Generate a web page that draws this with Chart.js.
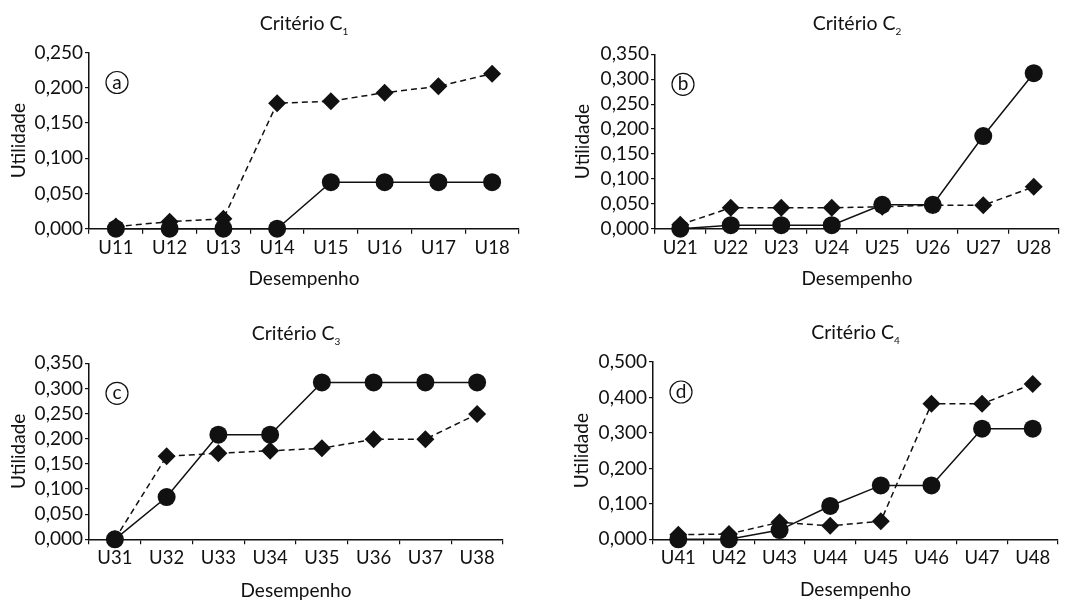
<!DOCTYPE html>
<html><head><meta charset="utf-8">
<script src="https://cdn.jsdelivr.net/npm/chart.js@4.4.0/dist/chart.umd.min.js"></script>
<style>
html,body{margin:0;padding:0;background:#fff;}
#wrap{position:relative;width:1083px;height:601px;overflow:hidden;background:#fff;}
#wrap canvas{position:absolute;left:0;top:0;}
.ttl{position:absolute;font-family:Lato,sans-serif;font-size:19.5px;color:#111;transform:translate(-50%,-50%);white-space:nowrap;line-height:1;}
.ttl sub{font-size:10px;vertical-align:-5px;margin-left:0;}
</style></head>
<body><div id="wrap">
<canvas id="cA" width="1083" height="601"></canvas>
<canvas id="cB" width="1083" height="601"></canvas>
<canvas id="cC" width="1083" height="601"></canvas>
<canvas id="cD" width="1083" height="601"></canvas>
<div class="ttl" id="tA">Critério C<sub>1</sub></div>
<div class="ttl" id="tB">Critério C<sub>2</sub></div>
<div class="ttl" id="tC">Critério C<sub>3</sub></div>
<div class="ttl" id="tD">Critério C<sub>4</sub></div>
</div>
<script>
// ---- data ----
const cats1 = ['U11','U12','U13','U14','U15','U16','U17','U18'];
const cats2 = ['U21','U22','U23','U24','U25','U26','U27','U28'];
const cats3 = ['U31','U32','U33','U34','U35','U36','U37','U38'];
const cats4 = ['U41','U42','U43','U44','U45','U46','U47','U48'];

const c1Circles  = [0, 0, 0, 0, 0.066, 0.066, 0.066, 0.066];
const c1Diamonds = [0.003, 0.010, 0.014, 0.178, 0.181, 0.193, 0.202, 0.220];
const c2Circles  = [0, 0.007, 0.007, 0.007, 0.048, 0.048, 0.186, 0.312];
const c2Diamonds = [0.008, 0.042, 0.042, 0.042, 0.044, 0.047, 0.047, 0.084];
const c3Circles  = [0, 0.084, 0.208, 0.208, 0.312, 0.312, 0.312, 0.312];
const c3Diamonds = [0, 0.165, 0.171, 0.176, 0.181, 0.199, 0.199, 0.249];
const c4Circles  = [0, 0, 0.026, 0.094, 0.152, 0.152, 0.312, 0.312];
const c4Diamonds = [0.013, 0.015, 0.048, 0.038, 0.051, 0.382, 0.382, 0.438];

const yMaxes = [0.25, 0.35, 0.35, 0.5];
const ySteps = [0.05, 0.05, 0.05, 0.1];
const panelLetters = ['a','b','c','d'];
const xTitle = 'Desempenho';
const yTitle = 'Utilidade';

// ---- layout ----
const FONT = 'Lato, sans-serif';
const INK = '#111';
const TXT = '#111';
const TFS = 19;           // axis title font size
const LH = TFS * 1.2;

const geos = [
  {l:89,  t:52.5, r:519,  b:228.7, yTitleX:19,  xTitleY:279, titleY:24},
  {l:655, t:54.3, r:1059, b:228.7, yTitleX:583, xTitleY:279, titleY:24},
  {l:89,  t:363.3,r:503,  b:539.3, yTitleX:19,  xTitleY:591, titleY:334},
  {l:653, t:362,  r:1058, b:539.3, yTitleX:582, xTitleY:590, titleY:333}
];

const letterPlugin = {
  id:'letter',
  afterDatasetsDraw(chart, args, opts){
    const ctx = chart.ctx, a = chart.chartArea;
    const cx = a.left + 28, cy = a.top + 30;
    ctx.save();
    ctx.beginPath();
    ctx.arc(cx, cy, 11, 0, Math.PI*2);
    ctx.fillStyle = '#fff';
    ctx.fill();
    ctx.lineWidth = 1.2;
    ctx.strokeStyle = INK;
    ctx.stroke();
    ctx.fillStyle = TXT;
    ctx.font = '19px ' + FONT;
    ctx.textAlign = 'center';
    ctx.textBaseline = 'middle';
    ctx.fillText(opts.text, cx, cy);
    ctx.restore();
  }
};

function makeChart(id, titleId, cats, circ, diam, ymax, step, g, letter){
  const canvas = document.getElementById(id);
  const chart = new Chart(canvas, {
    type:'line',
    data:{labels:cats, datasets:[
      {data:circ, borderColor:INK, backgroundColor:INK, borderWidth:1.5, pointStyle:'circle',
       pointRadius:9, pointBorderWidth:0, pointHoverRadius:9, order:0, clip:false, tension:0},
      {data:diam, borderColor:INK, backgroundColor:INK, borderWidth:1.5, borderDash:[6,4], pointStyle:'rectRot',
       pointRadius:9, pointBorderWidth:0, pointHoverRadius:9, order:1, clip:false, tension:0}
    ]},
    options:{
      responsive:false, animation:false, devicePixelRatio:1,
      events:[],
      layout:{padding:{left:g.yTitleX - LH/2, top:g.t, right:1083 - g.r, bottom:601 - (g.xTitleY + LH/2)}},
      plugins:{legend:{display:false}, tooltip:{enabled:false}, letter:{text:letter}},
      scales:{
        x:{
          type:'category', offset:true,
          grid:{offset:true, drawOnChartArea:false, drawTicks:true, tickLength:5, color:INK, lineWidth:1.2},
          border:{color:INK, width:1.5},
          ticks:{font:{family:FONT, size:18.5}, color:TXT, padding:3, maxRotation:0, autoSkip:false},
          title:{display:true, text:xTitle, font:{family:FONT, size:TFS}, color:TXT, padding:0},
          afterFit(s){ s.height = (g.xTitleY + LH/2) - g.b; }
        },
        y:{
          min:0, max:ymax,
          ticks:{stepSize:step, autoSkip:false, font:{family:FONT, size:19}, color:TXT, padding:2,
                 callback:v => Number(v).toFixed(3).replace('.', ',')},
          grid:{drawOnChartArea:false, drawTicks:true, tickLength:4, color:INK, lineWidth:1.2},
          border:{color:INK, width:1.5},
          title:{display:true, text:yTitle, font:{family:FONT, size:TFS}, color:TXT, padding:0},
          afterFit(s){ s.width = g.l - (g.yTitleX - LH/2); }
        }
      }
    },
    plugins:[letterPlugin]
  });
  const a = chart.chartArea;
  const t = document.getElementById(titleId);
  t.style.left = ((a.left + a.right)/2) + 'px';
  t.style.top = g.titleY + 'px';
  return chart;
}

makeChart('cA','tA',cats1,c1Circles,c1Diamonds,yMaxes[0],ySteps[0],geos[0],panelLetters[0]);
makeChart('cB','tB',cats2,c2Circles,c2Diamonds,yMaxes[1],ySteps[1],geos[1],panelLetters[1]);
makeChart('cC','tC',cats3,c3Circles,c3Diamonds,yMaxes[2],ySteps[2],geos[2],panelLetters[2]);
makeChart('cD','tD',cats4,c4Circles,c4Diamonds,yMaxes[3],ySteps[3],geos[3],panelLetters[3]);
</script>
</body></html>
